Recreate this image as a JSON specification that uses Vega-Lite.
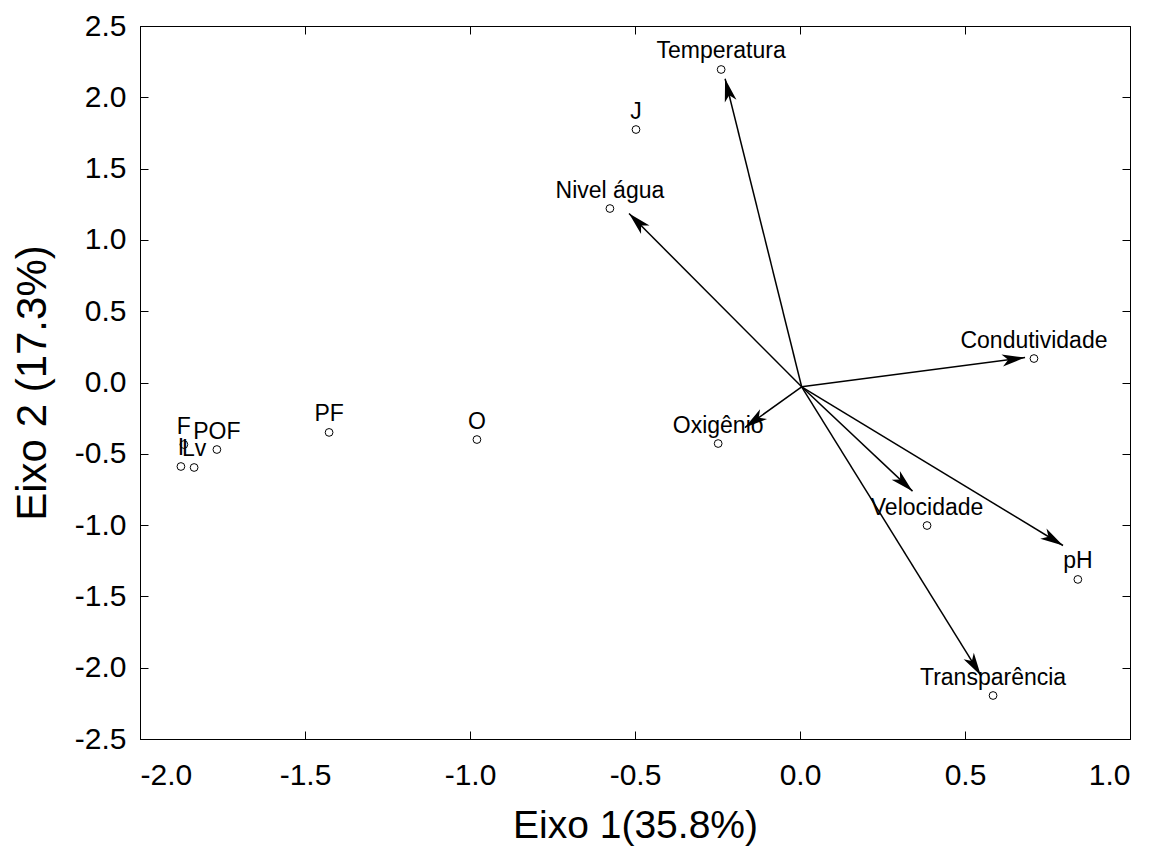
{
  "$schema": "https://vega.github.io/schema/vega-lite/v6.json",
  "width": 990,
  "height": 713,
  "autosize": "none",
  "padding": {"left": 140, "top": 26, "right": 31, "bottom": 112},
  "background": "white",
  "config": {
    "view": {"stroke": "black", "strokeWidth": 1},
    "axis": {
      "grid": false,
      "domainColor": "black",
      "tickColor": "black",
      "labelColor": "black",
      "titleColor": "black",
      "labelFont": "Liberation Sans",
      "titleFont": "Liberation Sans",
      "labelFontSize": 30,
      "titleFontWeight": "normal",
      "tickSize": -8
    }
  },
  "datasets": {
    "pts": [
      {"name": "Temperatura", "x": -0.239, "y": 2.195},
      {"name": "J", "x": -0.497, "y": 1.774},
      {"name": "Nivel água", "x": -0.576, "y": 1.22},
      {"name": "Condutividade", "x": 0.709, "y": 0.168},
      {"name": "Oxigênio", "x": -0.248, "y": -0.428},
      {"name": "Velocidade", "x": 0.385, "y": -1.003},
      {"name": "pH", "x": 0.842, "y": -1.381},
      {"name": "Transparência", "x": 0.585, "y": -2.195},
      {"name": "O", "x": -0.979, "y": -0.4},
      {"name": "PF", "x": -1.427, "y": -0.35},
      {"name": "POF", "x": -1.767, "y": -0.47},
      {"name": "F", "x": -1.867, "y": -0.435},
      {"name": "I", "x": -1.876, "y": -0.589},
      {"name": "Lv", "x": -1.836, "y": -0.596}
    ],
    "vec": [
      {"name": "Temperatura", "x0": 0.005, "y0": -0.03, "xe": -0.227, "ye": 2.13},
      {"name": "Nivel água", "x0": 0.005, "y0": -0.03, "xe": -0.518, "ye": 1.185},
      {"name": "Condutividade", "x0": 0.005, "y0": -0.03, "xe": 0.682, "ye": 0.175},
      {"name": "Oxigênio", "x0": 0.005, "y0": -0.03, "xe": -0.167, "ye": -0.316},
      {"name": "Velocidade", "x0": 0.005, "y0": -0.03, "xe": 0.341, "ye": -0.762},
      {"name": "pH", "x0": 0.005, "y0": -0.03, "xe": 0.797, "ye": -1.143},
      {"name": "Transparência", "x0": 0.005, "y0": -0.03, "xe": 0.548, "ye": -2.055}
    ]
  },
  "layer": [
    {
      "data": {"name": "vec"},
      "mark": {"type": "rule", "color": "black", "strokeWidth": 1.5},
      "encoding": {
        "x": {"field": "x0", "type": "quantitative", "scale": {"domain": [-2, 1], "nice": false, "zero": false},
              "axis": {"orient": "top", "labels": false, "title": null, "values": [-2, -1.5, -1, -0.5, 0, 0.5, 1], "domain": false}},
        "y": {"field": "y0", "type": "quantitative", "scale": {"domain": [-2.5, 2.5], "nice": false, "zero": false},
              "axis": {"orient": "right", "labels": false, "title": null, "values": [-2.5, -2, -1.5, -1, -0.5, 0, 0.5, 1, 1.5, 2, 2.5], "domain": false}},
        "x2": {"field": "xe"},
        "y2": {"field": "ye"}
      }
    },
    {
      "data": {"name": "vec"},
      "transform": [
        {"calculate": "atan2((datum.xe - datum.x0) * 330, (datum.ye - datum.y0) * 142.6) * 180 / PI", "as": "ang"}
      ],
      "mark": {"type": "point", "shape": "M0,0 L0.6,2.3 L0,1.7 L-0.6,2.3 Z", "filled": true, "color": "black", "opacity": 1, "size": 400},
      "encoding": {
        "x": {"field": "xe", "type": "quantitative", "axis": null},
        "y": {"field": "ye", "type": "quantitative", "axis": null},
        "angle": {"field": "ang", "type": "quantitative", "scale": null}
      }
    },
    {
      "data": {"name": "pts"},
      "mark": {"type": "point", "shape": "circle", "filled": false, "color": "black", "strokeWidth": 1, "size": 60, "opacity": 1},
      "encoding": {
        "x": {"field": "x", "type": "quantitative", "scale": {"domain": [-2, 1], "nice": false, "zero": false},
              "axis": {"orient": "bottom", "title": "Eixo 1(35.8%)", "titleFontSize": 39, "titlePadding": 16, "labelPadding": 29, "format": ".1f", "labelExpr": "replace(datum.label, '−', '-')", "values": [-2, -1.5, -1, -0.5, 0, 0.5, 1]}},
        "y": {"field": "y", "type": "quantitative", "scale": {"domain": [-2.5, 2.5], "nice": false, "zero": false},
              "axis": {"orient": "left", "title": "Eixo 2 (17.3%)", "titleFontSize": 42, "titlePadding": 20, "labelPadding": 22, "format": ".1f", "labelExpr": "replace(datum.label, '−', '-')", "values": [-2.5, -2, -1.5, -1, -0.5, 0, 0.5, 1, 1.5, 2, 2.5]}}
      }
    },
    {
      "data": {"name": "pts"},
      "mark": {"type": "text", "font": "Liberation Sans", "fontSize": 23, "color": "black", "baseline": "alphabetic", "align": "center", "dy": -11},
      "encoding": {
        "x": {"field": "x", "type": "quantitative", "axis": null},
        "y": {"field": "y", "type": "quantitative", "axis": null},
        "text": {"field": "name"}
      }
    }
  ],
  "resolve": {"axis": {"x": "independent", "y": "independent"}}
}
